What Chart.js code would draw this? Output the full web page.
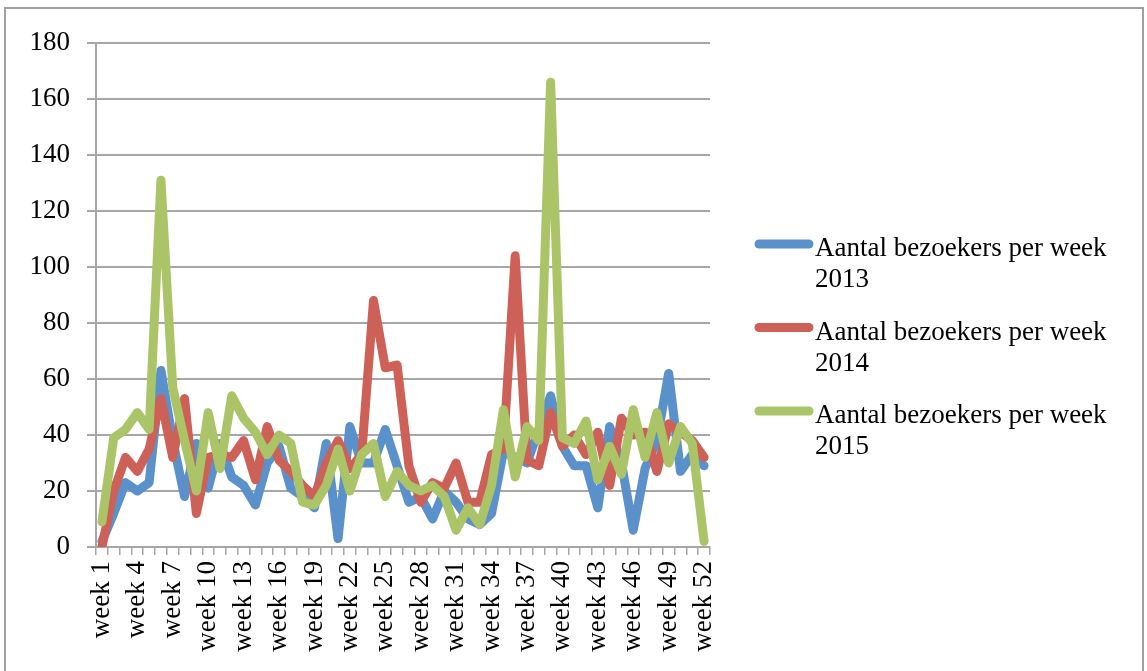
<!DOCTYPE html>
<html>
<head>
<meta charset="utf-8">
<script src="https://cdn.jsdelivr.net/npm/chart.js@4.4.1/dist/chart.umd.min.js"></script>
<style>
  body { margin: 0; background: #fff; }
  #wrap { position: relative; width: 1147px; height: 671px; overflow: hidden; }
  #frame { position: absolute; left: 4px; top: 7px; width: 1136px; height: 700px; border: 2px solid #a0a0a0; }
  canvas { position: absolute; left: 0; top: 0; }
</style>
</head>
<body>
<div id="wrap">
  <div id="frame"></div>
  <canvas id="chartId" width="1147" height="671"></canvas>
</div>
<script>
var weeks = [];
for (var w = 1; w <= 52; w++) weeks.push("week " + w);

var seriesNames = ["Aantal bezoekers per week 2013", "Aantal bezoekers per week 2014", "Aantal bezoekers per week 2015"];
var seriesColors = ["#5b91cb", "#cd6158", "#aac467"];

var visits2013 = [2, 12, 23, 20, 23, 63, 38, 18, 37, 21, 37, 25, 22, 15, 30, 36, 21, 18, 14, 37, 3, 43, 30, 30, 42, 29, 16, 18, 10, 20, 16, 10, 8, 12, 34, 32, 30, 42, 54, 36, 29, 29, 14, 43, 30, 6, 28, 38, 62, 27, 33, 29];
var visits2014 = [0, 20, 32, 27, 35, 53, 32, 53, 12, 32, 33, 32, 38, 24, 43, 31, 27, 22, 18, 30, 38, 28, 33, 88, 64, 65, 29, 16, 23, 21, 30, 16, 16, 33, 35, 104, 31, 29, 48, 36, 40, 33, 41, 22, 46, 40, 41, 27, 44, 41, 38, 32];
var visits2015 = [9, 39, 42, 48, 42, 131, 57, 38, 20, 48, 28, 54, 46, 41, 33, 40, 37, 16, 15, 22, 35, 20, 33, 37, 18, 27, 22, 20, 22, 18, 6, 14, 8, 22, 49, 25, 43, 38, 166, 39, 37, 45, 24, 36, 26, 49, 32, 48, 30, 43, 37, 2];

var yTicks = [0, 20, 40, 60, 80, 100, 120, 140, 160, 180];

var fontFamily = "'Liberation Serif', 'Times New Roman', serif";
var gridGray = "#a6a6a6";

function makeSet(i, values) {
  return {
    label: seriesNames[i],
    data: values,
    borderColor: seriesColors[i],
    backgroundColor: seriesColors[i],
    borderWidth: 9,
    borderCapStyle: "round",
    borderJoinStyle: "round",
    pointRadius: 0,
    tension: 0,
    fill: false,
    order: 3 - i
  };
}

// legend on the right, two lines per entry like the original
var sideLegend = {
  id: "sideLegend",
  afterDraw: function(chart) {
    var ctx = chart.ctx;
    var x0 = chart.chartArea.right + 45;
    ctx.save();
    ctx.font = "27px " + fontFamily;
    ctx.fillStyle = "#000";
    ctx.textAlign = "left";
    ctx.textBaseline = "alphabetic";
    chart.data.datasets.forEach(function(ds, i) {
      var y = 244 + i * 83.5;
      ctx.strokeStyle = ds.borderColor;
      ctx.lineWidth = 9;
      ctx.lineCap = "round";
      ctx.beginPath();
      ctx.moveTo(x0 + 4, y);
      ctx.lineTo(x0 + 54, y);
      ctx.stroke();
      var cut = ds.label.lastIndexOf(" ");
      ctx.fillText(ds.label.slice(0, cut), x0 + 60, y + 12);
      ctx.fillText(ds.label.slice(cut + 1), x0 + 60, y + 43);
    });
    ctx.restore();
  }
};

var chrt = document.getElementById("chartId").getContext("2d");
var chartId = new Chart(chrt, {
  type: "line",
  data: {
    labels: weeks,
    datasets: [makeSet(0, visits2013), makeSet(1, visits2014), makeSet(2, visits2015)]
  },
  options: {
    responsive: false,
    animation: false,
    layout: {
      padding: { left: 0, right: 437, top: 43, bottom: 0 }
    },
    plugins: {
      legend: { display: false },
      tooltip: { enabled: false }
    },
    scales: {
      x: {
        offset: true,
        afterFit: function(s) { s.height = 124; },
        grid: {
          offset: true,
          drawOnChartArea: false,
          drawTicks: true,
          tickLength: 8,
          color: gridGray,
          lineWidth: 1.5
        },
        border: { display: true, color: gridGray, width: 2 },
        ticks: {
          autoSkip: false,
          maxRotation: 90,
          minRotation: 90,
          padding: 6,
          color: "#000",
          font: { family: fontFamily, size: 27 },
          callback: function(value, index) {
            return index % 3 === 0 ? weeks[index] : "";
          }
        }
      },
      y: {
        min: yTicks[0],
        max: yTicks[yTicks.length - 1],
        afterFit: function(s) { s.width = 96; },
        afterBuildTicks: function(s) {
          s.ticks = yTicks.map(function(v) { return { value: v }; });
        },
        grid: {
          color: gridGray,
          lineWidth: 2,
          tickLength: 9
        },
        border: { display: true, color: gridGray, width: 2 },
        ticks: {
          padding: 17,
          color: "#000",
          font: { family: fontFamily, size: 27 }
        }
      }
    }
  },
  plugins: [sideLegend]
});
</script>
</body>
</html>
